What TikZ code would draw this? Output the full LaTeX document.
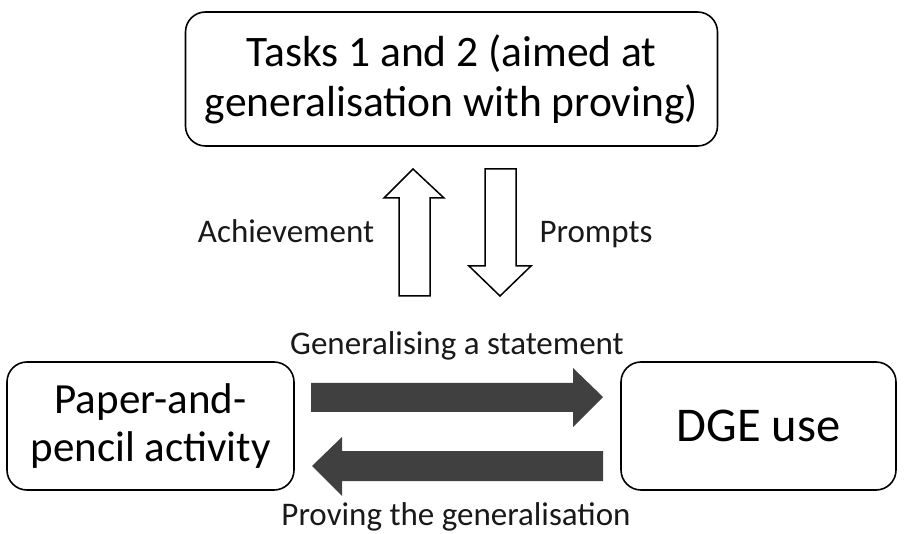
\documentclass[tikz,border=0pt]{standalone}
\usepackage{fontspec}
\setmainfont{Carlito}
\begin{document}
\begin{tikzpicture}[x=1pt,y=-1pt,
  box/.style={draw=black,line width=1.6pt,rounded corners=20pt,align=center,inner sep=0pt},
  lab/.style={font=\fontsize{33}{38}\selectfont,text=black!90,anchor=base},
  hollow/.style={draw=black,line width=1.5pt,fill=white,line join=miter},
  solid/.style={fill=black!75,draw=none}]
\useasboundingbox (0,0) rectangle (905,534);
\node[box,minimum width=532pt,minimum height=134pt,font=\fontsize{43.5}{50}\selectfont] (tasks) at (451.5,79) {Tasks 1 and 2 (aimed at\\generalisation with proving)};
\node[box,minimum width=287pt,minimum height=128pt,font=\fontsize{43}{48}\selectfont] (paper) at (150.5,426) {Paper-and-\\pencil activity};
\node[box,minimum width=275pt,minimum height=128pt,font=\fontsize{48.5}{56}\selectfont] (dge) at (758.5,426) {DGE use};
% hollow up/down arrows
\draw[hollow] (399,296) -- (399,198) -- (384,198) -- (413,169) -- (444,198) -- (430,198) -- (430,296) -- cycle;
\draw[hollow] (485,169) -- (485,266) -- (469,266) -- (500,296) -- (531,266) -- (516,266) -- (516,169) -- cycle;
\node[lab] (ach) at (286,243) {Achievement};
\node[lab] (pro) at (596,243) {Prompts};
% solid horizontal arrows
\fill[solid] (311,383) -- (573,383) -- (573,368) -- (603,397) -- (573,427) -- (573,412) -- (311,412) -- cycle;
\fill[solid] (603,451) -- (342,451) -- (342,437) -- (312,466) -- (342,496) -- (342,481) -- (603,481) -- cycle;
\node[lab] (gen) at (457,355) {Generalising a statement};
\node[lab] (prov) at (456,525) {Proving the generalisation};
\end{tikzpicture}
\end{document}
